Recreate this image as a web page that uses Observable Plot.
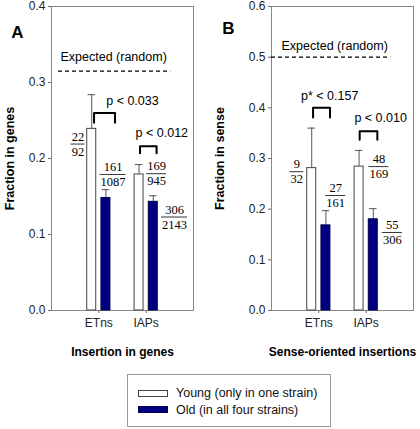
<!DOCTYPE html>
<html><head><meta charset="utf-8">
<script src="https://cdn.jsdelivr.net/npm/d3@7"></script>
<script src="https://cdn.jsdelivr.net/npm/@observablehq/plot@0.6"></script>
<style>
body{margin:0;background:#fff;font-family:Arial,"Liberation Sans",sans-serif;}
#wrap{position:relative;width:420px;height:429px;overflow:hidden}
#a{position:absolute;left:0;top:0}
#b{position:absolute;left:210px;top:0}
#legend{position:absolute;left:127px;top:374px;width:204px;height:53px;border:1px solid #999;box-sizing:border-box;padding:10px 0 0 10px;font-size:12.5px;color:#111}
#legend .row{display:flex;align-items:center;height:16.5px}
#legend .sw{display:inline-block;width:28px;height:5px;border:1px solid #444;margin-right:8px}
</style></head>
<body><div id="wrap"><div id="a"></div><div id="b"></div><div id="legend"></div></div>
<script>
// ---- data ----
const categories = ["ETns", "IAPs"];
const seriesNames = ["Young (only in one strain)", "Old (in all four strains)"];
const seriesColors = ["#ffffff", "#000080"];

const genesYoung = [0.239, 0.179];
const genesYoungErr = [0.284, 0.192];
const genesOld = [0.148, 0.143];
const genesOldErr = [0.159, 0.151];
const genesExpected = 0.315;
const genesYTicks = [0, 0.1, 0.2, 0.3, 0.4];

const senseYoung = [0.281, 0.284];
const senseYoungErr = [0.360, 0.316];
const senseOld = [0.168, 0.180];
const senseOldErr = [0.197, 0.201];
const senseExpected = 0.5;
const senseYTicks = [0, 0.1, 0.2, 0.3, 0.4, 0.5, 0.6];

// fraction annotations
const genesFracNum = ["22", "161", "169", "306"];
const genesFracDen = ["92", "1087", "945", "2143"];
const genesFracX = [0.56, 1.30, 2.22, 2.60];
const genesFracY = [0.219, 0.179, 0.180, 0.123];
const senseFracNum = ["9", "27", "48", "55"];
const senseFracDen = ["32", "161", "169", "306"];
const senseFracX = [0.534, 1.357, 2.27, 2.553];
const senseFracY = [0.274, 0.227, 0.284, 0.154];

// p-value annotations
const genesPText = ["p < 0.033", "p < 0.012"];
const genesPX = [1.71, 2.33];
const genesPY = [0.276, 0.233];
const genesBrX1 = [0.899, 1.87];
const genesBrX2 = [1.342, 2.22];
const genesBrTop = [0.260, 0.216];
const genesBrBottom = [0.247, 0.207];

const sensePText = ["p* < 0.157", "p < 0.010"];
const sensePX = [1.23, 2.306];
const sensePY = [0.423, 0.380];
const senseBrX1 = [0.878, 1.863];
const senseBrX2 = [1.236, 2.236];
const senseBrTop = [0.400, 0.354];
const senseBrBottom = [0.381, 0.337];

const expectedLabel = "Expected (random)";
const genesExpX = [0.148, 2.52];
const senseExpX = [0, 2.52];
const genesExpTextX = 1.313, genesExpTextY = 0.334;
const senseExpTextX = 1.335, senseExpTextY = 0.523;

// ---- drawing ----
const SANS = 'Arial,"Liberation Sans",sans-serif';
const SERIF = '"Times New Roman","Liberation Serif",serif';
const off = [[-0.245, -0.055], [0.055, 0.245]];

function panel(cfg) {
  const bars = [];
  categories.forEach((c, i) => {
    [[cfg.young, cfg.youngErr], [cfg.old, cfg.oldErr]].forEach(([v, e], s) => {
      const cx = i + 1;
      bars.push({cat: c, s, x1: cx + off[s][0], x2: cx + off[s][1], xm: cx + (off[s][0] + off[s][1]) / 2,
        value: v[i], err: e[i], half: (off[s][1] - off[s][0]) * 0.42});
    });
  });
  const fr = cfg.num.map((n, i) => ({num: n, den: cfg.den[i], x: cfg.fx[i], y: cfg.fy[i],
    hw: (Math.max(n.length, cfg.den[i].length) * 3 + 1) / 47.4}));
  const br = [];
  cfg.bx1.forEach((x1, i) => {
    const x2 = cfg.bx2[i], t = cfg.btop[i], b = cfg.bbot[i];
    br.push({k: i, x: x1, y: b}, {k: i, x: x1, y: t}, {k: i, x: x2, y: t}, {k: i, x: x2, y: b});
  });
  const ps = cfg.ptext.map((t, i) => ({t, x: cfg.px[i], y: cfg.py[i]}));
  return Plot.plot({
    width: 210, height: 370,
    marginLeft: cfg.ml, marginRight: cfg.mr, marginTop: 6, marginBottom: 60,
    x: {domain: [0, 3]},
    y: {domain: [0, cfg.ymax]},
    style: {fontFamily: SANS, fontSize: "12px", color: "#222", background: "transparent"},
    marks: [
      Plot.frame({stroke: "#888"}),
      Plot.axisY(cfg.yticks, {tickSize: 3, tickPadding: 3, tickFormat: d3.format(".1f"), label: null, stroke: "#666"}),
      Plot.axisX([1, 2], {tickSize: 3, tickPadding: 5, tickFormat: d => categories[d - 1], label: null, stroke: "#666"}),
      Plot.text([cfg.ylabel], {frameAnchor: "left", textAnchor: "middle", lineAnchor: "middle", rotate: -90, dx: -(cfg.ml - 9), fontWeight: "bold", fontSize: 12.5, fill: "#000"}),
      Plot.text([cfg.xlabel], {frameAnchor: "bottom", textAnchor: "middle", lineAnchor: "middle", dy: 42, fontWeight: "bold", fontSize: 12, fill: "#000"}),
      Plot.text([cfg.letter], {frameAnchor: "top-left", textAnchor: "middle", lineAnchor: "middle", dx: cfg.ldx, dy: cfg.ldy, fontWeight: "bold", fontSize: 17, fill: "#000"}),
      Plot.ruleY([cfg.expected], {y: d => d, x1: cfg.ex[0], x2: cfg.ex[1], stroke: "#000", strokeWidth: 1.2, strokeDasharray: "4,3"}),
      Plot.text([expectedLabel], {x: cfg.etx, y: cfg.ety, fontSize: 12.5, fill: "#000"}),
      Plot.ruleX(bars, {x: "xm", y1: "value", y2: "err", stroke: "#555"}),
      Plot.ruleY(bars, {y: "err", x1: d => d.xm - d.half, x2: d => d.xm + d.half, stroke: "#555"}),
      Plot.rectY(bars, {x1: "x1", x2: "x2", y1: 0, y2: "value", fill: d => seriesColors[d.s], stroke: d => d.s ? "#000050" : "#444", strokeWidth: 1}),
      Plot.line(br, {x: "x", y: "y", z: "k", stroke: "#000", strokeWidth: 2, strokeLinejoin: "round"}),
      Plot.text(ps, {x: "x", y: "y", text: "t", fontSize: 12.5, fill: "#000"}),
      Plot.text(fr, {x: "x", y: "y", text: "num", dy: -7.5, fontFamily: SERIF, fontSize: 12.5, fill: "#000"}),
      Plot.text(fr, {x: "x", y: "y", text: "den", dy: 7.5, fontFamily: SERIF, fontSize: 12.5, fill: "#000"}),
      Plot.ruleY(fr, {y: "y", x1: d => d.x - d.hw, x2: d => d.x + d.hw, stroke: "#000", strokeWidth: 0.8})
    ]
  });
}

document.getElementById("a").append(panel({
  young: genesYoung, youngErr: genesYoungErr, old: genesOld, oldErr: genesOldErr,
  ymax: 0.4, yticks: genesYTicks, expected: genesExpected, ex: genesExpX, etx: genesExpTextX, ety: genesExpTextY,
  num: genesFracNum, den: genesFracDen, fx: genesFracX, fy: genesFracY,
  ptext: genesPText, px: genesPX, py: genesPY, bx1: genesBrX1, bx2: genesBrX2, btop: genesBrTop, bbot: genesBrBottom,
  ml: 51, mr: 17, ylabel: "Fraction in genes", xlabel: "Insertion in genes", letter: "A", ldx: -34, ldy: 26
}));
document.getElementById("b").append(panel({
  young: senseYoung, youngErr: senseYoungErr, old: senseOld, oldErr: senseOldErr,
  ymax: 0.6, yticks: senseYTicks, expected: senseExpected, ex: senseExpX, etx: senseExpTextX, ety: senseExpTextY,
  num: senseFracNum, den: senseFracDen, fx: senseFracX, fy: senseFracY,
  ptext: sensePText, px: sensePX, py: sensePY, bx1: senseBrX1, bx2: senseBrX2, btop: senseBrTop, bbot: senseBrBottom,
  ml: 61, mr: 7, ylabel: "Fraction in sense", xlabel: "Sense-oriented insertions", letter: "B", ldx: -43, ldy: 22
}));

const lg = document.getElementById("legend");
seriesNames.forEach((n, i) => {
  const row = document.createElement("div");
  row.className = "row";
  const sw = document.createElement("span");
  sw.className = "sw";
  sw.style.background = seriesColors[i];
  if (i) sw.style.borderColor = "#000050";
  row.append(sw, document.createTextNode(n));
  lg.append(row);
});
</script>
</body></html>
